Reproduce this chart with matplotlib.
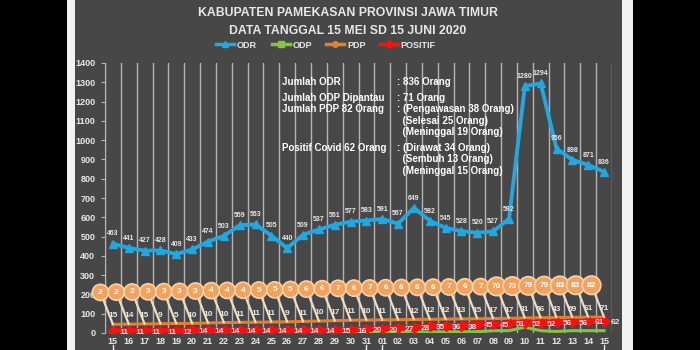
import matplotlib
matplotlib.use("Agg")
import matplotlib.pyplot as plt
from matplotlib.lines import Line2D
from matplotlib.patches import Rectangle
import matplotlib.transforms as mtransforms

# --- data ------------------------------------------------------------------
dates = ["15", "16", "17", "18", "19", "20", "21", "22", "23", "24", "25", "26",
         "27", "28", "29", "30", "31", "01", "02", "03", "04", "05", "06", "07",
         "08", "09", "10", "11", "12", "13", "14", "15"]
month_marks = [0, 16, 17, 31]   # first/last day of each month group

odr = [463, 441, 427, 428, 409, 433, 474, 503, 559, 563, 505, 440, 509, 537,
       561, 577, 583, 591, 567, 649, 582, 545, 528, 520, 527, 592, 1280, 1294,
       956, 898, 871, 836]
odp_line = [4, 4, 4, 4, 4, 4, 4, 4, 4, 4, 4, 4, 4, 4, 4, 4, 4, 4, 4,
            5, 5, 6, 6, 7, 12, 12, 30, 12, 8, 12, 12, 12]
odp_label = [15, 14, 15, 9, 5, 10, 10, 10, 11, 11, 11, 9, 11, 10, 17, 11, 10,
             11, 11, 12, 12, 12, 13, 15, 17, 17, 31, 56, 43, 59, 61, 71]
pdp_line = [45, 46, 47, 48, 49, 50, 52, 54, 55, 56, 57, 58, 60, 62, 64, 66,
            67, 68, 69, 70, 71, 72, 73, 74, 75, 76, 78, 79, 80, 81, 82, 82]
pdp_bubble = [2, 2, 2, 3, 3, 3, 3, 4, 4, 4, 5, 5, 5, 6, 6, 7, 6, 7, 6, 6, 6,
              6, 7, 6, 7, 70, 73, 79, 79, 83, 83, 82]
positif = [11, 11, 11, 11, 12, 14, 14, 14, 14, 14, 14, 14, 14, 14, 15, 16, 20,
           20, 27, 28, 35, 36, 38, 45, 45, 51, 52, 52, 56, 56, 61, 62]

title = "KABUPATEN PAMEKASAN PROVINSI JAWA TIMUR\nDATA TANGGAL 15 MEI SD 15 JUNI 2020"
info_left = ["Jumlah ODR", "Jumlah ODP Dipantau", "Jumlah PDP 82 Orang",
             "", "", "Positif Covid 62 Orang", "", ""]
info_right = [": 836 Orang", ": 71 Orang", ": (Pengawasan 38 Orang)",
              "  (Selesai 25 Orang)", "  (Meninggal 19 Orang)",
              ": (Dirawat 34 Orang)", "  (Sembuh 13 Orang)", "  (Meninggal 15 Orang)"]
info_y = [82, 98, 109, 121, 132, 148, 159, 171]   # pixel rows of the text block

# --- style ------------------------------------------------------------------
BG = "#474747"
TXT = "#e8e8e8"
GRID = "#b4b4b4"
C_ODR, C_ODP, C_PDP, C_POS = "#22a7e0", "#86c440", "#e57f2e", "#ff1010"
plt.rcParams["font.family"] = ["Liberation Sans", "DejaVu Sans"]
plt.rcParams["font.weight"] = "bold"

W, H = 700, 350
fig = plt.figure(figsize=(7, 3.5), dpi=100, facecolor="black")

# white frame + dark panel
fig.patches.append(Rectangle((67 / W, 0), 566 / W, 1, transform=fig.transFigure,
                             fc="#f2f2f2", ec="none", zorder=-2))
fig.patches.append(Rectangle((75 / W, 0), 547 / W, 1, transform=fig.transFigure,
                             fc=BG, ec="none", zorder=-1))

ax = fig.add_axes([105 / W, 17 / H, 507 / W, 270 / H])
ax.set_zorder(1)
ax.set_facecolor("none")
n = len(dates)
x = list(range(n))
ax.set_xlim(-0.5, n - 0.5)
ax.set_ylim(0, 1400)

for k in range(n + 1):
    ax.axvline(k - 0.5, color=GRID, lw=1.0, zorder=1)

for s in ["top", "right", "bottom"]:
    ax.spines[s].set_visible(False)
ax.spines["left"].set_color(GRID)
ax.set_yticks(range(0, 1401, 100))
ax.tick_params(axis="y", colors=GRID, labelcolor=TXT, labelsize=6.5, length=3, pad=4)
ax.set_xticks(x)
ax.set_xticklabels(dates)
ax.tick_params(axis="x", length=0, labelcolor=TXT, labelsize=6.5, pad=3)

# month group marks under the date labels
trans = mtransforms.blended_transform_factory(ax.transData, ax.transAxes)
for m in month_marks:
    ax.plot([m, m], [-0.045, -0.07], color=TXT, lw=1, transform=trans, clip_on=False)

# series
ax.plot(x, odr, color=C_ODR, lw=2.8, marker="^", ms=5.5, zorder=4)
ax.plot(x, odp_line, color=C_ODP, lw=2.2, zorder=3)
ax.plot(x, pdp_line, color=C_PDP, lw=2.2, zorder=3)
ax.plot(x, positif, color=C_POS, lw=4, marker="D", ms=5, zorder=5)

for i in x:
    ax.annotate(str(odr[i]), (i, odr[i]), xytext=(0, 7), textcoords="offset points",
                ha="center", va="center", fontsize=5, color=TXT, zorder=6)
    ax.annotate(str(odp_label[i]), (i, pdp_line[i]), xytext=(0, 6),
                textcoords="offset points", ha="center", va="center",
                fontsize=6, color=TXT, zorder=6)
    ax.annotate(str(positif[i]), (i, positif[i]), xytext=(8, -1),
                textcoords="offset points", ha="center", va="center",
                fontsize=6, color="#f4e4e4", zorder=7)
    ax.annotate(str(pdp_bubble[i]), (i, pdp_line[i]), xytext=(-9, 23),
                textcoords="offset points", ha="center", va="center",
                fontsize=6, color="white", zorder=8,
                bbox=dict(boxstyle="circle,pad=0.55", fc="#f2a25c", ec="#f9d2a8", lw=1.2),
                arrowprops=dict(arrowstyle="-", color="#f1dcc6", lw=1.6,
                                shrinkA=0, shrinkB=0))

# title, legend, info block
fig.text(348 / W, 1 - 22 / H, title, ha="center", va="center", fontsize=8.8,
         color=TXT, linespacing=1.6)

handles = [Line2D([], [], color=C_ODR, lw=2.5, marker="^", ms=5),
           Line2D([], [], color=C_ODP, lw=2.5, marker="s", ms=4),
           Line2D([], [], color=C_PDP, lw=2.5, marker="o", ms=4),
           Line2D([], [], color=C_POS, lw=2.5, marker="D", ms=4)]
leg = fig.legend(handles, ["ODR", "ODP", "PDP", "POSITIF"], loc="center",
                 bbox_to_anchor=(326 / W, 1 - 45 / H), ncol=4, frameon=False,
                 fontsize=6.5, handlelength=2.0, handletextpad=0.3, columnspacing=1.6)
for t in leg.get_texts():
    t.set_color(TXT)

for left, right, yy in zip(info_left, info_right, info_y):
    if left:
        ax.text(282 / W, 1 - yy / H, left, ha="left", va="center", fontsize=7,
                color="white", transform=fig.transFigure, zorder=10)
    ax.text(397 / W, 1 - yy / H, right, ha="left", va="center", fontsize=7,
            color="white", transform=fig.transFigure, zorder=10)

fig.savefig("out.png", dpi=100, facecolor="black")
